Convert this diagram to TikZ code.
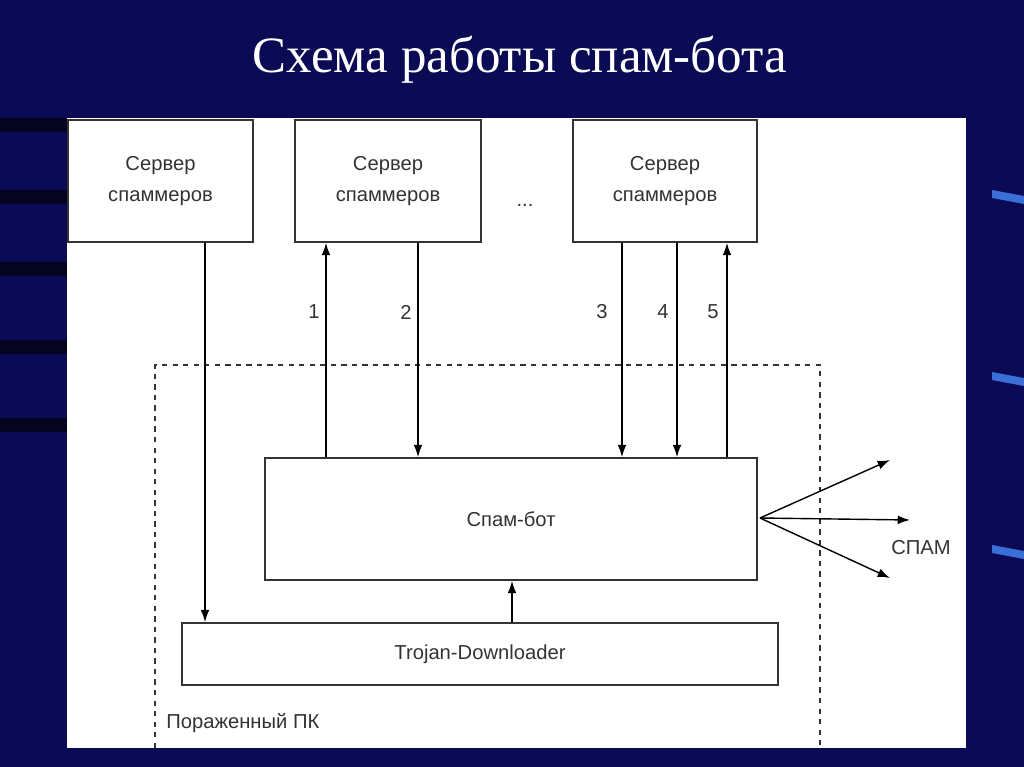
\documentclass[tikz,border=0pt]{standalone}
\usepackage{fontspec}
\setmainfont{Liberation Serif}
\newfontfamily\diag{Liberation Sans}
\usetikzlibrary{arrows.meta}
\definecolor{bg}{HTML}{0A0A55}
\definecolor{stripecol}{HTML}{050520}
\definecolor{markcol}{HTML}{3A6FD8}
\tikzset{
  box/.style={draw=black!80, line width=1pt, fill=white, font=\diag\fontsize{11.5}{18}\selectfont, text=black!80, align=center, inner sep=0pt},
  arr/.style={line width=0.8pt, -{Latex[length=7pt,width=5pt]}},
  lbl/.style={font=\diag\fontsize{11.5}{14}\selectfont, text=black!80}
}
\begin{document}
\begin{tikzpicture}[x=0.02cm,y=-0.02cm]
\useasboundingbox (0,0) rectangle (1024,767);
\fill[bg] (0,0) rectangle (1024,767);
\foreach \y in {118,190,262,340,418} {\fill[stripecol] (0,\y) rectangle (300,\y+14);}
\foreach \y in {190,372,545} {\fill[markcol] (992,\y) -- (1024,\y+6) -- (1024,\y+14) -- (992,\y+8) -- cycle;}
\node[text=white, font=\fontsize{29}{32}\selectfont] (title) at (520,60) {Схема работы спам-бота};
\fill[white] (67,118) rectangle (966,748);
\draw[dashed, line width=0.8pt, black!80] (155,748) -- (155,365) -- (820,365) -- (820,748);
\node[box, minimum width=3.7cm, minimum height=2.44cm] (s1) at (160.5,181) {Сервер\\спаммеров};
\node[box, minimum width=3.72cm, minimum height=2.44cm] (s2) at (388,181) {Сервер\\спаммеров};
\node[box, minimum width=3.68cm, minimum height=2.44cm] (s3) at (665,181) {Сервер\\спаммеров};
\node[lbl] (dots) at (525,205) {...};
\node[box, minimum width=9.84cm, minimum height=2.44cm] (bot) at (511,519) {Спам-бот};
\node[box, minimum width=11.92cm, minimum height=1.24cm] (tro) at (480,654) {Trojan-Downloader};
\draw[arr] (s1.south -| 205,0) -- (tro.north -| 205,0);
\draw[arr] (bot.north -| 326,0) -- (s2.south -| 326,0);
\draw[arr] (s2.south -| 418,0) -- (bot.north -| 418,0);
\draw[arr] (s3.south -| 622,0) -- (bot.north -| 622,0);
\draw[arr] (s3.south -| 677,0) -- (bot.north -| 677,0);
\draw[arr] (bot.north -| 727,0) -- (s3.south -| 727,0);
\draw[arr] (tro.north -| 512,0) -- (bot.south -| 512,0);
\node[lbl] (l1) at (314,312) {1};
\node[lbl] (l2) at (406,312) {2};
\node[lbl] (l3) at (602,312) {3};
\node[lbl] (l4) at (663,312) {4};
\node[lbl] (l5) at (713,312) {5};
\coordinate (o) at (760,518);
\coordinate (e1) at (890,460);
\coordinate (e2) at (910,520);
\coordinate (e3) at (890,578);
\draw[arr] (o) -- (e1);
\draw[arr] (o) -- (e2);
\draw[arr] (o) -- (e3);
\node[lbl, anchor=west, inner sep=0pt] (spam) at (891,548) {СПАМ};
\node[lbl, anchor=west, inner sep=0pt] (pc) at (166,723) {Пораженный ПК};
\end{tikzpicture}
\end{document}
